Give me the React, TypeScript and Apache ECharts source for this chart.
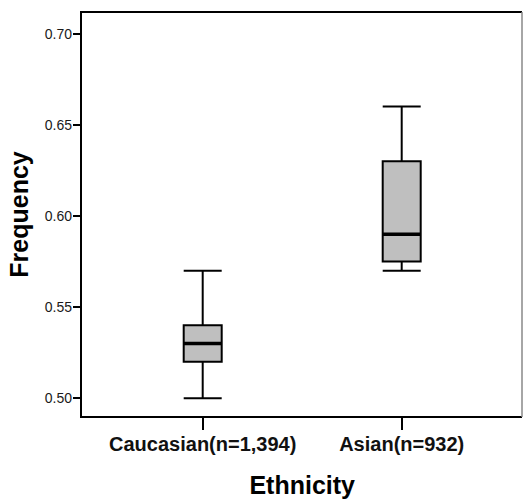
import React, { useEffect, useRef } from "react";
import * as echarts from "echarts";

const categories = ["Caucasian(n=1,394)", "Asian(n=932)"];
const whiskerLow = [0.5, 0.57];
const q1 = [0.52, 0.575];
const median = [0.53, 0.59];
const q3 = [0.54, 0.63];
const whiskerHigh = [0.57, 0.66];
const yTicks = [0.5, 0.55, 0.6, 0.65, 0.7];

const FONT = "'Liberation Sans', Arial, Helvetica, sans-serif";

export default function App() {
  const ref = useRef<HTMLDivElement>(null);
  useEffect(() => {
    if (!ref.current) return;
    const chart = echarts.init(ref.current, null, { renderer: "svg" });
    const data = categories.map((_, i) => [i, whiskerLow[i], q1[i], median[i], q3[i], whiskerHigh[i]]);
    const half = 19;
    const option: any = {
      animation: false,
      backgroundColor: "#ffffff",
      grid: { left: 103.2, right: 21.8, top: 12, bottom: 82, containLabel: false, outerBoundsMode: "none" },
      xAxis: {
        type: "category",
        data: categories,
        boundaryGap: true,
        axisLine: { show: false },
        axisTick: { show: true, alignWithLabel: true, length: 13, lineStyle: { color: "#000", width: 2 } },
        axisLabel: { interval: 0, fontSize: 20, fontWeight: "bold", color: "#111", margin: 17, fontFamily: FONT, hideOverlap: false },
        splitLine: { show: false },
        name: "Ethnicity",
        nameLocation: "middle",
        nameGap: 55,
        nameTextStyle: { fontSize: 25, fontWeight: "bold", color: "#000", fontFamily: FONT },
      },
      yAxis: {
        type: "value",
        min: 0.4897,
        max: 0.7119,
        offset: 22.2,
        axisLine: { show: true, lineStyle: { color: "#000", width: 2 } },
        axisTick: { show: true, customValues: yTicks, length: 8, lineStyle: { color: "#000", width: 2 } },
        axisLabel: {
          customValues: yTicks,
          formatter: (v: number) => v.toFixed(2),
          fontSize: 14,
          color: "#1a1a1a",
          margin: 9,
          fontFamily: FONT,
        },
        splitLine: { show: false },
        name: "Frequency",
        nameLocation: "middle",
        nameRotate: 90,
        nameGap: 50,
        nameTextStyle: { fontSize: 25, fontWeight: "bold", color: "#000", fontFamily: FONT },
      },
      graphic: [
        {
          type: "polyline",
          shape: { points: [[522, 12], [81, 12], [81, 417], [522, 417]] },
          style: { fill: "none", stroke: "#000", lineWidth: 2 },
          z: 10,
        },
        {
          type: "line",
          shape: { x1: 522, y1: 12, x2: 522, y2: 417 },
          style: { stroke: "#888", lineWidth: 1.5 },
          z: 10,
        },
      ],
      series: [
        {
          type: "custom",
          data,
          encode: { x: 0, y: [1, 2, 3, 4, 5] },
          renderItem: (params: any, api: any) => {
            const xi = api.value(0);
            const low = api.coord([xi, api.value(1)]);
            const p1 = api.coord([xi, api.value(2)]);
            const med = api.coord([xi, api.value(3)]);
            const p3 = api.coord([xi, api.value(4)]);
            const high = api.coord([xi, api.value(5)]);
            const cx = low[0];
            const ls = { stroke: "#000", lineWidth: 2 };
            return {
              type: "group",
              children: [
                { type: "line", shape: { x1: cx, y1: high[1], x2: cx, y2: p3[1] }, style: ls },
                { type: "line", shape: { x1: cx, y1: p1[1], x2: cx, y2: low[1] }, style: ls },
                { type: "line", shape: { x1: cx - half, y1: high[1], x2: cx + half, y2: high[1] }, style: ls },
                { type: "line", shape: { x1: cx - half, y1: low[1], x2: cx + half, y2: low[1] }, style: ls },
                {
                  type: "rect",
                  shape: { x: cx - half, y: p3[1], width: half * 2, height: p1[1] - p3[1] },
                  style: { fill: "#bfbfbf", stroke: "#000", lineWidth: 2 },
                },
                {
                  type: "line",
                  shape: { x1: cx - half, y1: med[1], x2: cx + half, y2: med[1] },
                  style: { stroke: "#000", lineWidth: 3.5 },
                },
              ],
            };
          },
        },
      ],
    };
    chart.setOption(option);
    return () => chart.dispose();
  }, []);
  return <div ref={ref} style={{ position: "fixed", left: 0, top: 0, width: 523, height: 499 }} />;
}
